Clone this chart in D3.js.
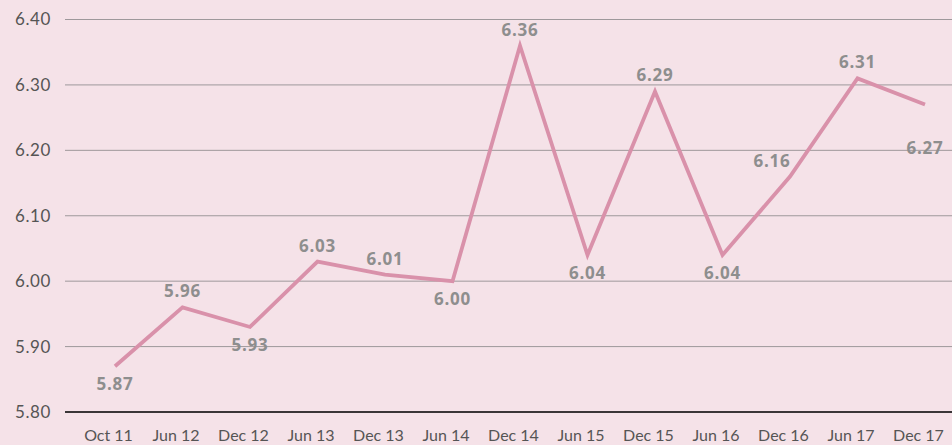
<!DOCTYPE html>
<html>
<head>
<meta charset="utf-8">
<script src="https://cdn.jsdelivr.net/npm/d3@7"></script>
<style>
  body { margin: 0; background: #f5e2e8; }
  svg { display: block; }
  .tick text { font-family: "Lato", sans-serif; }
</style>
</head>
<body>
<div id="chart"></div>
<script>
var periods = ["Oct 11", "Jun 12", "Dec 12", "Jun 13", "Dec 13", "Jun 14", "Dec 14",
               "Jun 15", "Dec 15", "Jun 16", "Dec 16", "Jun 17", "Dec 17"];
var values = [5.87, 5.96, 5.93, 6.03, 6.01, 6.00, 6.36, 6.04, 6.29, 6.04, 6.16, 6.31, 6.27];
// where each value label sits: a = above, b = below, l = above-left, r = below-right
var labelSide = ["b", "a", "b", "a", "a", "b", "a", "b", "a", "b", "l", "a", "r"];
var yTicks = [5.80, 5.90, 6.00, 6.10, 6.20, 6.30, 6.40];

function drawLine(){
  var width = 952, height = 445;
  var svg = d3.select("#chart").append("svg")
    .attr("width", width)
    .attr("height", height);

  svg.append("rect").attr("width", width).attr("height", height).attr("fill", "#f5e2e8");

  var x = d3.scalePoint()
    .domain(periods)
    .range([115, 925]);

  var y = d3.scaleLinear()
    .domain([5.8, 6.4])
    .range([412, 19.5]);

  // y labels
  var yAxis = svg.append("g")
    .attr("transform", "translate(65,0)")
    .call(d3.axisLeft(y).tickValues(yTicks).tickFormat(d3.format(".2f")).tickSize(0).tickPadding(14));
  yAxis.select(".domain").remove();
  yAxis.selectAll("text").attr("font-size", 17).attr("fill", "#555").attr("letter-spacing", "0.6");

  // gridlines
  svg.append("g").selectAll("line")
    .data(yTicks.filter(function(d){ return d > 5.8; }))
    .enter().append("line")
    .attr("x1", 65).attr("x2", width)
    .attr("y1", function(d){ return y(d); })
    .attr("y2", function(d){ return y(d); })
    .attr("stroke", "#9e989b")
    .attr("stroke-width", 1);

  // baseline
  svg.append("line")
    .attr("x1", 65).attr("x2", width)
    .attr("y1", y(5.8)).attr("y2", y(5.8))
    .attr("stroke", "#3a3537")
    .attr("stroke-width", 2);

  var xAxis = svg.append("g")
    .attr("transform", "translate(-7," + y(5.8) + ")")
    .call(d3.axisBottom(x).tickSize(0).tickPadding(18));
  xAxis.select(".domain").remove();
  xAxis.selectAll("text").attr("font-size", 16).attr("fill", "#555");

  var line = d3.line()
    .x(function(d, i){ return x(periods[i]); })
    .y(function(d){ return y(d); });

  svg.append("path")
    .datum(values)
    .attr("d", line)
    .attr("fill", "none")
    .attr("stroke", "#d991aa")
    .attr("stroke-width", 3.8)
    .attr("stroke-linejoin", "miter");

  svg.append("g").selectAll("text")
    .data(values)
    .enter().append("text")
    .attr("x", function(d, i){
      var s = labelSide[i];
      if (s === "l") return x(periods[i]) - 18;
      return x(periods[i]);
    })
    .attr("y", function(d, i){
      var s = labelSide[i];
      var py = y(d);
      if (s === "a") return py - 10;
      if (s === "l") return py - 10;
      if (s === "r") return py + 49;
      return py + 24;
    })
    .attr("text-anchor", "middle")
    .attr("font-family", "'Open Sans', sans-serif")
    .attr("font-weight", "bold")
    .attr("font-size", 17)
    .attr("letter-spacing", "0.8")
    .attr("fill", "#8e8e8e")
    .text(function(d){ return d3.format(".2f")(d); });
}

drawLine();
</script>
</body>
</html>
